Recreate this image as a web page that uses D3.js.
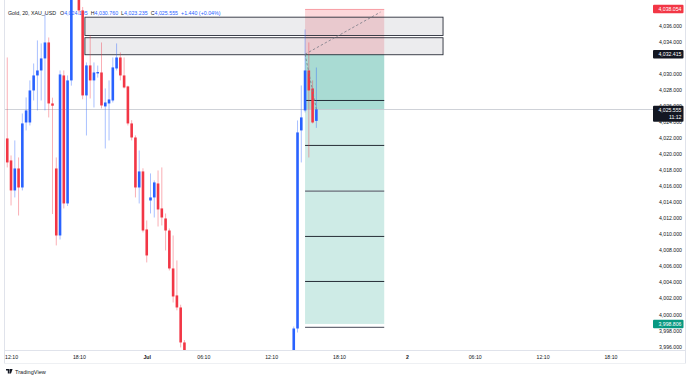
<!DOCTYPE html>
<html>
<head>
<meta charset="utf-8">
<script src="https://cdn.jsdelivr.net/npm/d3@7"></script>
<style>
  html, body { margin: 0; padding: 0; background: #fff; }
  svg { display: block; font-family: "Liberation Sans", Arial, sans-serif; }
</style>
</head>
<body>
<div id="chart"></div>
<script>
// ---- data ----
// two runs of 20-minute candles that are on screen (the run in between trades below the view)
const segStarts = ["2025-06-30T11:50", "2025-07-01T14:10"];
const segLengths = [48, 7];

const opens = [
  4021.92, 4019.18, 4015.44, 4018.18, 4015.81, 4023.91, 4023.91, 4027.90, 4029.77, 4030.39,
  4031.89, 4033.88, 4026.28, 4018.18, 4009.83, 4029.77, 4013.82, 4029.15, null, 4040.20,
  4037.87, 4027.28, 4031.02, 4029.15, 4030.02, 4030.14, 4025.91, 4026.28, 4026.65, 4030.64,
  4032.01, 4029.77, 4028.40, 4023.79, 4022.04, 4015.81, 4017.81, 4010.58, 4014.19, 4014.57,
  4016.31, 4013.20, 4011.95, 4010.45, 4005.72, 4002.36, 4000.86, 3996.50,
  3994.00, 3998.24, 4022.92, 4025.41, 4030.39, 4028.15, 4024.105
];
const highs = [
  4032.01, 4019.80, 4021.67, 4019.55, 4025.03, 4027.03, 4029.15, 4031.26, 4034.13, 4033.76,
  4037.50, 4034.50, 4027.00, 4019.55, 4030.39, 4030.39, 4029.77, 4040.50, null, 4041.00,
  4038.30, 4031.39, 4034.75, 4031.39, 4031.00, 4033.88, 4028.15, 4029.15, 4032.01, 4033.76,
  4032.64, 4032.01, 4028.50, 4024.20, 4022.30, 4020.42, 4018.20, 4011.70, 4017.56, 4016.69,
  4017.93, 4018.31, 4012.57, 4010.70, 4009.83, 4006.72, 4001.20, 3996.80,
  3998.49, 4024.16, 4028.52, 4035.50, 4033.88, 4029.15, 4030.760
];
const lows = [
  4018.31, 4013.57, 4014.57, 4012.32, 4015.44, 4022.92, 4023.54, 4026.65, 4025.41, 4026.65,
  4025.41, 4024.54, 4012.50, 4008.59, 4009.33, 4013.20, 4013.50, 4028.50, null, 4037.40,
  4026.80, 4022.29, 4026.90, 4025.78, 4029.50, 4025.66, 4020.67, 4021.67, 4026.40, 4030.39,
  4029.15, 4028.15, 4023.54, 4021.67, 4014.57, 4013.82, 4010.21, 4006.47, 4012.57, 4012.07,
  4010.95, 4011.08, 4007.96, 4005.47, 4001.48, 4000.50, 3995.88, 3993.50,
  3993.00, 3997.74, 4018.93, 4025.16, 4019.55, 4023.79, 4023.235
];
const closes = [
  4018.93, 4015.44, 4018.18, 4015.81, 4023.79, 4025.41, 4027.90, 4029.77, 4030.39, 4031.89,
  4033.88, 4026.28, 4026.00, 4009.83, 4029.89, 4013.82, 4029.15, 4039.80, null, 4037.87,
  4027.28, 4031.02, 4029.15, 4030.14, 4030.20, 4026.03, 4026.40, 4026.78, 4030.77, 4032.01,
  4029.77, 4028.27, 4023.79, 4022.04, 4015.81, 4017.81, 4010.45, 4007.34, 4014.57, 4016.44,
  4013.07, 4012.07, 4010.45, 4005.72, 4002.23, 4000.86, 3996.50, 3994.00,
  3998.24, 4022.67, 4024.54, 4030.39, 4027.90, 4023.91, 4025.555
];

const priceTicks = [3996, 3998, 4000, 4002, 4004, 4006, 4008, 4010, 4012, 4014, 4016, 4018,
  4020, 4022, 4024, 4026, 4028, 4030, 4034, 4036];
const timeTickTimes = ["2025-06-30T12:10", "2025-06-30T18:10", "2025-07-01T01:10", "2025-07-01T06:10",
  "2025-07-01T12:10", "2025-07-01T18:10", "2025-07-02T00:10", "2025-07-02T06:10",
  "2025-07-02T12:10", "2025-07-02T18:10"];
const timeTickLabels = ["12:10", "18:10", "Jul", "06:10", "12:10", "18:10", "2", "06:10", "12:10", "18:10"];

// short position tool
const entryPrice = 4032.415, stopPrice = 4038.054, targetPrice = 3998.806, lastPrice = 4025.555;
const positionFrom = "2025-07-01T15:10", positionTo = "2025-07-01T22:10";
const trendEnd = {time: "2025-07-01T21:50", price: 4037.66};
const blackLevels = [4026.65, 4021.05, 4009.71, 4004.10];
const greyLevels = [4015.35, 3998.37];
// two grey boxes drawn by hand
const boxTop = [4037.03, 4034.47];
const boxBottom = [4034.75, 4032.35];
const boxFrom = "2025-06-30T18:30", boxTo = "2025-07-02T03:10";

const legend = {name: "Gold, 20, XAU_USD", o: "4,024.105", h: "4,030.760", l: "4,023.235", c: "4,025.555", chg: "+1.440 (+0.04%)"};
const countdown = "11:12";

// ---- bar clock: 20 min bars, market break Jul 1 00:00-01:00 ----
const fmt = d3.timeFormat("%Y-%m-%dT%H:%M");
const parse = d3.timeParse("%Y-%m-%dT%H:%M");
const barTimes = [];
{
  let t = parse("2025-06-30T11:50");
  const brk0 = parse("2025-07-01T00:00"), brk1 = parse("2025-07-01T01:00");
  while (barTimes.length < 175) {
    if (!(t >= brk0 && t < brk1)) barTimes.push(fmt(t));
    t = d3.timeMinute.offset(t, 20);
  }
}
const barIndex = s => barTimes.indexOf(s);

const candles = [];
{
  let n = 0;
  segStarts.forEach((s, si) => {
    const i0 = barIndex(s);
    for (let j = 0; j < segLengths[si]; j++, n++) {
      if (opens[n] == null) continue;
      candles.push({i: i0 + j, o: opens[n], h: highs[n], l: lows[n], c: closes[n]});
    }
  });
}

// ---- layout ----
const W = 690, H = 379;
const plot = {left: 5, right: 653, top: 0, bottom: 350};
const blue = "#2962ff", red = "#f23645", teal = "#089981", ink = "#131722";

const x = d3.scaleLinear().domain([-0.6, 171.3]).range([plot.left, plot.right]);
const y = d3.scaleLinear().domain([3995.56, 4039.17]).range([plot.bottom, plot.top]);

const svg = d3.select("#chart").append("svg").attr("width", W).attr("height", H);
svg.append("rect").attr("width", W).attr("height", H).attr("fill", "#fff");

svg.append("defs").append("clipPath").attr("id", "clip")
  .append("rect").attr("x", plot.left).attr("y", plot.top)
  .attr("width", plot.right - plot.left).attr("height", plot.bottom - plot.top);

// frame
svg.append("line").attr("x1", 4.5).attr("x2", 4.5).attr("y1", 0).attr("y2", 363).attr("stroke", "#e0e3eb");
svg.append("line").attr("x1", 685.5).attr("x2", 685.5).attr("y1", 0).attr("y2", 363).attr("stroke", "#e0e3eb");
svg.append("line").attr("x1", 4).attr("x2", 686).attr("y1", 350.5).attr("y2", 350.5).attr("stroke", "#e0e3eb");
svg.append("line").attr("x1", 4).attr("x2", 686).attr("y1", 363.5).attr("y2", 363.5).attr("stroke", "#eef0f3");

// legend
const lg = svg.append("text").attr("x", 8).attr("y", 14.5).attr("font-size", 5.3).attr("fill", ink);
lg.append("tspan").text(legend.name);
[["O", legend.o], ["H", legend.h], ["L", legend.l], ["C", legend.c]].forEach(([k, v], i) => {
  lg.append("tspan").attr("dx", i === 0 ? 4 : 3).text(k);
  lg.append("tspan").attr("fill", blue).text(v);
});
lg.append("tspan").attr("dx", 3).attr("fill", blue).text(legend.chg);

const g = svg.append("g").attr("clip-path", "url(#clip)");

// position zones
const px0 = x(barIndex(positionFrom)), px1 = x(barIndex(positionTo));
g.append("rect").attr("x", px0).attr("width", px1 - px0)
  .attr("y", y(stopPrice)).attr("height", y(entryPrice) - y(stopPrice))
  .attr("fill", red).attr("fill-opacity", 0.2);
g.append("line").attr("x1", px0).attr("x2", px1).attr("y1", y(stopPrice) + 0.5).attr("y2", y(stopPrice) + 0.5)
  .attr("stroke", red).attr("stroke-opacity", 0.35);
g.append("rect").attr("x", px0).attr("width", px1 - px0)
  .attr("y", y(entryPrice)).attr("height", y(lastPrice) - y(entryPrice))
  .attr("fill", teal).attr("fill-opacity", 0.35);
g.append("rect").attr("x", px0).attr("width", px1 - px0)
  .attr("y", y(lastPrice)).attr("height", y(targetPrice) - y(lastPrice))
  .attr("fill", teal).attr("fill-opacity", 0.2);

// grey boxes
const bx0 = x(barIndex(boxFrom) + 0.6), bx1 = x(barIndex(boxTo) + 0.6);
boxTop.forEach((t, i) => {
  g.append("rect").attr("x", bx0).attr("width", bx1 - bx0)
    .attr("y", y(t)).attr("height", y(boxBottom[i]) - y(t))
    .attr("fill", "#787b86").attr("fill-opacity", 0.14)
    .attr("stroke", "#2a2e39").attr("stroke-width", 0.9);
});

// levels inside the position
g.selectAll("line.lvl").data(blackLevels).join("line").attr("class", "lvl")
  .attr("x1", px0).attr("x2", px1).attr("y1", d => y(d)).attr("y2", d => y(d))
  .attr("stroke", "#131722").attr("stroke-width", 0.9);
g.selectAll("line.lvlg").data(greyLevels).join("line").attr("class", "lvlg")
  .attr("x1", px0).attr("x2", px1).attr("y1", d => y(d)).attr("y2", d => y(d))
  .attr("stroke", "#6a6d78").attr("stroke-width", 1.3);

// last price line
g.append("line").attr("x1", plot.left).attr("x2", plot.right)
  .attr("y1", Math.round(y(lastPrice)) + 0.5).attr("y2", Math.round(y(lastPrice)) + 0.5)
  .attr("stroke", "#c3c6ce").attr("stroke-width", 0.8);

// candles
const bodyW = 2.6;
g.selectAll("line.wick").data(candles).join("line").attr("class", "wick")
  .attr("x1", d => x(d.i)).attr("x2", d => x(d.i))
  .attr("y1", d => y(d.h)).attr("y2", d => y(d.l))
  .attr("stroke", d => d.c >= d.o ? blue : red).attr("stroke-opacity", 0.4).attr("stroke-width", 1);
g.selectAll("rect.body").data(candles).join("rect").attr("class", "body")
  .attr("x", d => x(d.i) - bodyW / 2).attr("width", bodyW)
  .attr("y", d => y(Math.max(d.o, d.c)))
  .attr("height", d => Math.max(1, Math.abs(y(d.o) - y(d.c))))
  .attr("fill", d => d.c >= d.o ? blue : red);

// dashed lines of the position tool
const dash = (x1, y1, x2, y2) => g.append("line").attr("x1", x1).attr("y1", y1).attr("x2", x2).attr("y2", y2)
  .attr("stroke", "#787b86").attr("stroke-width", 0.8).attr("stroke-dasharray", "2.5,2");
const lastC = candles[candles.length - 1];
dash(px0, y(entryPrice), x(lastC.i), y(lastPrice));
dash(px0, y(entryPrice), x(barIndex(trendEnd.time)), y(trendEnd.price));

// price axis
const yAxis = svg.append("g").attr("transform", `translate(682,0)`)
  .call(d3.axisLeft(y).tickValues(priceTicks).tickSize(0).tickFormat(d3.format(",.3f")));
yAxis.select(".domain").remove();
yAxis.selectAll("text").attr("x", 0).attr("font-size", 5.2).attr("fill", ink)
  .attr("font-family", "Liberation Sans, Arial, sans-serif");

// time axis
const xAxis = svg.append("g").attr("transform", `translate(0,352)`)
  .call(d3.axisBottom(x).tickValues(timeTickTimes.map(barIndex)).tickSize(0)
    .tickFormat((d, i) => timeTickLabels[i]));
xAxis.select(".domain").remove();
xAxis.selectAll("text").attr("font-size", 5.2).attr("fill", ink)
  .attr("font-family", "Liberation Sans, Arial, sans-serif")
  .attr("font-weight", (d, i) => /^\d{2}:/.test(timeTickLabels[i]) ? 400 : 700);

// price labels (drawn over the axis like the platform does)
const tag = (price, fill, lines) => {
  const yy = y(price);
  const h = lines.length === 1 ? 8.5 : 15.8;
  const top = lines.length === 1 ? yy - 4.3 : yy - 3.4;
  svg.append("rect").attr("x", 653).attr("y", top).attr("width", 30.5).attr("height", h)
    .attr("rx", 1).attr("fill", fill);
  lines.forEach((t, k) => svg.append("text").attr("x", 681.5).attr("y", top + 6.2 + k * 7.2)
    .attr("text-anchor", "end").attr("font-size", 5.2).attr("fill", "#fff").text(t));
};
tag(stopPrice, red, [d3.format(",.3f")(stopPrice)]);
tag(entryPrice, "#131722", [d3.format(",.3f")(entryPrice)]);
tag(lastPrice, "#131722", [d3.format(",.3f")(lastPrice), countdown]);
tag(targetPrice, teal, [d3.format(",.3f")(targetPrice)]);

// TradingView mark
const logo = svg.append("g").attr("transform", "translate(6,369)");
logo.append("path").attr("d", "M0 0h3.2v4.6h-1.4v-3.2h-1.8z M4 0h2.6l-1.6 4.6h-1.6z").attr("fill", ink);
logo.append("circle").attr("cx", 4.3).attr("cy", 0.9).attr("r", 0.9).attr("fill", ink);
svg.append("text").attr("x", 15).attr("y", 374).attr("font-size", 5.6).attr("fill", ink).text("TradingView");
</script>
</body>
</html>
